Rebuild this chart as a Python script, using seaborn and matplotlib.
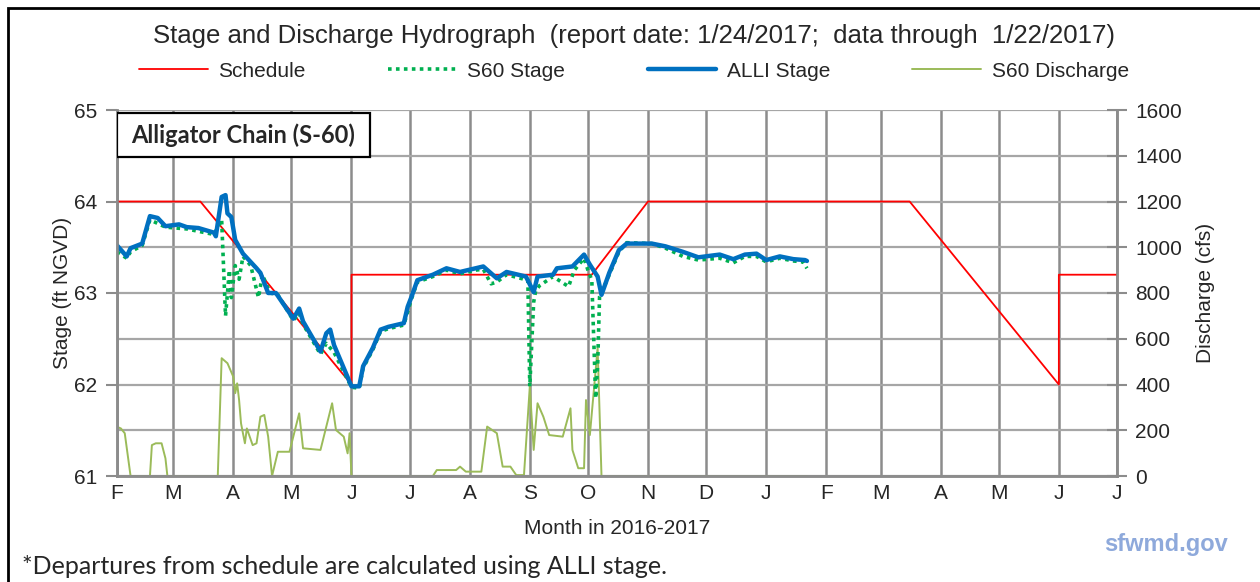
import pandas as pd
import numpy as np
import matplotlib.pyplot as plt
import matplotlib.dates as mdates
import matplotlib.ticker as mticker
from matplotlib.patches import Rectangle
import seaborn as sns

# ----------------------------
# Data read off the hydrograph
# ----------------------------

schedule_dates = ["2016-02-01", "2016-03-15", "2016-06-01", "2016-06-01", "2016-10-03",
                  "2016-11-01", "2017-03-16", "2017-06-01", "2017-06-01", "2017-07-01"]
schedule_stage = [64.0, 64.0, 62.0, 63.2, 63.2, 64.0, 64.0, 62.0, 63.2, 63.2]

alli_dates = ["2016-02-01", "2016-02-06", "2016-02-08", "2016-02-14", "2016-02-16", "2016-02-18",
              "2016-02-22", "2016-02-26", "2016-03-04", "2016-03-08", "2016-03-14", "2016-03-22",
              "2016-03-23", "2016-03-26", "2016-03-28", "2016-03-29", "2016-03-31", "2016-04-02",
              "2016-04-06", "2016-04-13", "2016-04-15", "2016-04-19", "2016-04-23", "2016-05-02",
              "2016-05-05", "2016-05-07", "2016-05-16", "2016-05-19", "2016-05-21", "2016-05-23",
              "2016-06-01", "2016-06-05", "2016-06-07", "2016-06-12", "2016-06-16", "2016-06-20",
              "2016-06-28", "2016-06-30", "2016-07-02", "2016-07-05", "2016-07-13", "2016-07-20",
              "2016-07-27", "2016-08-04", "2016-08-08", "2016-08-15", "2016-08-20", "2016-08-30",
              "2016-09-03", "2016-09-05", "2016-09-13", "2016-09-15", "2016-09-23", "2016-09-29",
              "2016-10-02", "2016-10-06", "2016-10-08", "2016-10-12", "2016-10-17", "2016-10-21",
              "2016-11-03", "2016-11-10", "2016-11-19", "2016-11-27", "2016-12-08", "2016-12-15",
              "2016-12-21", "2016-12-27", "2017-01-01", "2017-01-08", "2017-01-15", "2017-01-21",
              "2017-01-22"]
alli_stage = [63.52, 63.40, 63.49, 63.54, 63.69, 63.84,
              63.82, 63.73, 63.75, 63.72, 63.71, 63.66,
              63.62, 64.05, 64.07, 63.87, 63.83, 63.58,
              63.43, 63.27, 63.22, 63.00, 63.00, 62.72,
              62.83, 62.69, 62.36, 62.56, 62.60, 62.43,
              61.98, 61.98, 62.20, 62.40, 62.60, 62.63,
              62.67, 62.85, 62.96, 63.14, 63.20, 63.27,
              63.23, 63.27, 63.29, 63.16, 63.23, 63.18,
              63.01, 63.18, 63.20, 63.27, 63.29, 63.42,
              63.31, 63.18, 62.98, 63.22, 63.47, 63.54,
              63.54, 63.51, 63.45, 63.39, 63.42, 63.37,
              63.42, 63.43, 63.36, 63.40, 63.37, 63.36,
              63.35]

s60_dates = ["2016-02-01", "2016-02-06", "2016-02-08", "2016-02-14", "2016-02-18", "2016-02-26",
             "2016-03-08", "2016-03-22", "2016-03-26", "2016-03-28", "2016-03-30", "2016-03-31",
             "2016-04-02", "2016-04-04", "2016-04-06", "2016-04-10", "2016-04-14", "2016-04-16",
             "2016-04-20", "2016-04-24", "2016-05-02", "2016-05-05", "2016-05-07", "2016-05-16",
             "2016-05-19", "2016-05-23", "2016-05-27", "2016-06-01", "2016-06-05", "2016-06-07",
             "2016-06-12", "2016-06-16", "2016-06-20", "2016-06-28", "2016-07-02", "2016-07-05",
             "2016-07-13", "2016-07-20", "2016-07-27", "2016-08-04", "2016-08-08", "2016-08-12",
             "2016-08-15", "2016-08-20", "2016-08-31", "2016-09-01", "2016-09-03", "2016-09-04",
             "2016-09-06", "2016-09-13", "2016-09-21", "2016-09-24", "2016-09-29", "2016-10-01",
             "2016-10-03", "2016-10-05", "2016-10-06", "2016-10-07", "2016-10-10", "2016-10-12",
             "2016-10-17", "2016-10-21", "2016-11-03", "2016-11-10", "2016-11-19", "2016-11-27",
             "2016-12-08", "2016-12-15", "2016-12-21", "2016-12-27", "2017-01-01", "2017-01-08",
             "2017-01-15", "2017-01-20", "2017-01-22"]
s60_stage = [63.45, 63.38, 63.45, 63.52, 63.80, 63.72,
             63.70, 63.64, 63.80, 62.75, 63.25, 62.95,
             63.30, 63.15, 63.40, 63.30, 62.95, 63.20,
             63.00, 62.98, 62.70, 62.78, 62.66, 62.33,
             62.45, 62.35, 62.18, 61.97, 61.96, 62.18,
             62.38, 62.58, 62.61, 62.65, 62.94, 63.12,
             63.18, 63.25, 63.21, 63.25, 63.26, 63.10,
             63.12, 63.20, 63.14, 61.98, 62.90, 63.02,
             63.08, 63.18, 63.07, 63.25, 63.38, 63.25,
             63.14, 61.85, 62.20, 62.96, 63.10, 63.20,
             63.45, 63.55, 63.54, 63.49, 63.40, 63.36,
             63.38, 63.33, 63.40, 63.40, 63.34, 63.38,
             63.35, 63.34, 63.27]

discharge_dates = ["2016-02-01", "2016-02-03", "2016-02-05", "2016-02-08", "2016-02-18", "2016-02-19",
                   "2016-02-21", "2016-02-24", "2016-02-26", "2016-02-27", "2016-03-24", "2016-03-26",
                   "2016-03-29", "2016-04-01", "2016-04-02", "2016-04-03", "2016-04-04", "2016-04-05",
                   "2016-04-07", "2016-04-08", "2016-04-11", "2016-04-13", "2016-04-15", "2016-04-17",
                   "2016-04-19", "2016-04-21", "2016-04-24", "2016-04-30", "2016-05-05", "2016-05-07",
                   "2016-05-16", "2016-05-22", "2016-05-24", "2016-05-28", "2016-05-30", "2016-05-31",
                   "2016-06-01", "2016-07-13", "2016-07-15", "2016-07-25", "2016-07-27", "2016-07-30",
                   "2016-08-07", "2016-08-10", "2016-08-15", "2016-08-18", "2016-08-22", "2016-08-25",
                   "2016-08-29", "2016-09-01", "2016-09-03", "2016-09-05", "2016-09-08", "2016-09-11",
                   "2016-09-18", "2016-09-22", "2016-09-23", "2016-09-26", "2016-09-29", "2016-09-30",
                   "2016-10-02", "2016-10-06", "2016-10-08", "2017-01-22"]
discharge_cfs = [215, 208, 187, 0, 0, 135,
                 143, 143, 77, 0, 0, 515,
                 493, 434, 362, 405, 332, 230,
                 143, 208, 135, 143, 259, 267,
                 172, 0, 106, 106, 274, 121,
                 114, 318, 201, 172, 99, 187,
                 0, 0, 26, 26, 41, 19,
                 19, 216, 187, 41, 41, 4,
                 4, 390, 114, 318, 259, 179,
                 172, 296, 114, 34, 34, 332,
                 179, 560, 0, 0]

month_letters = ["J", "F", "M", "A", "M", "J", "J", "A", "S", "O", "N", "D"]

df_sched = pd.DataFrame({"date": pd.to_datetime(schedule_dates), "stage": schedule_stage})
df_alli = pd.DataFrame({"date": pd.to_datetime(alli_dates), "stage": alli_stage})
df_s60 = pd.DataFrame({"date": pd.to_datetime(s60_dates), "stage": s60_stage})
df_q = pd.DataFrame({"date": pd.to_datetime(discharge_dates), "cfs": discharge_cfs})

# ----------------------------
# Figure
# ----------------------------

sns.set_style("white")
plt.rcParams['font.family'] = ['Liberation Sans', 'DejaVu Sans']

fig = plt.figure(figsize=(12.6, 5.82), dpi=100)
ax = fig.add_axes([117/1260, 1 - 476/582, 1000/1260, 366/582])
ax2 = ax.twinx()

# discharge axis sits behind the stage axis, grid lives on it
ax.set_zorder(ax2.get_zorder() + 1)
ax.patch.set_visible(False)

grid_x = "#8c8c8c"
grid_y = "#a6a6a6"

sns.lineplot(data=df_q, x="date", y="cfs", ax=ax2, color="#9BBB59", lw=1.4,
             estimator=None, sort=False, legend=False)

sns.lineplot(data=df_sched, x="date", y="stage", ax=ax, color="#FF0000", lw=1.3,
             estimator=None, sort=False, label="Schedule")
sns.lineplot(data=df_s60, x="date", y="stage", ax=ax, color="#00B050", lw=2.6,
             linestyle=(0, (1, 1.2)), estimator=None, sort=False, label="S60 Stage")
sns.lineplot(data=df_alli, x="date", y="stage", ax=ax, color="#0070C0", lw=3.2,
             estimator=None, sort=False, label="ALLI Stage")

xmin, xmax = pd.Timestamp("2016-02-01"), pd.Timestamp("2017-07-01")
ax.set_xlim(xmin, xmax)
ax.set_ylim(61, 65)
ax2.set_ylim(0, 1600)

ax.xaxis.set_major_locator(mdates.MonthLocator())
ax.xaxis.set_major_formatter(mticker.FuncFormatter(
    lambda v, p: month_letters[mdates.num2date(v).month - 1]))
ax.yaxis.set_major_locator(mticker.MultipleLocator(1))
ax2.yaxis.set_major_locator(mticker.MultipleLocator(200))

# grid drawn on the back axis (twinx hides its x axis, bring it back without labels)
ax2.xaxis.set_visible(True)
ax2.xaxis.set_major_locator(mdates.MonthLocator())
ax2.tick_params(axis="x", which="both", bottom=False, top=False,
                labelbottom=False, labeltop=False)
ax2.set_xlabel("")
ax2.grid(True, axis="y", color=grid_y, lw=1.6)
ax2.grid(True, axis="x", color=grid_x, lw=1.8)
ax2.set_axisbelow(True)

for a in (ax, ax2):
    for s in a.spines.values():
        s.set_color(grid_x)
        s.set_linewidth(1.8)
    a.spines["top"].set_visible(False)

ax.tick_params(axis="both", which="major", direction="out", length=8, width=1.5,
               color=grid_x, labelsize=15, pad=6)
ax.tick_params(axis="x", length=5, pad=1)
ax2.tick_params(axis="y", direction="inout", length=14, width=1.5, color=grid_x,
                labelsize=15, pad=6)

ax.set_xlabel("Month in 2016-2017", fontsize=15, labelpad=11)
ax.set_ylabel("Stage (ft NGVD)", fontsize=15, labelpad=2)
ax2.set_ylabel("Discharge (cfs)", fontsize=15, labelpad=10)

# legend across the top
h, l = ax.get_legend_handles_labels()
qline = ax2.get_lines()[0]
h.append(plt.Line2D([], [], color=qline.get_color(), lw=1.4))
l.append("S60 Discharge")
ax.get_legend().remove()
fig.legend(h, l, loc="center", bbox_to_anchor=(634/1260, 1 - 71/582), ncol=4, frameon=False,
           fontsize=15, handlelength=3.3, handletextpad=0.5, columnspacing=3.95)

fig.text(634/1260, 1 - 36/582,
         "Stage and Discharge Hydrograph  (report date: 1/24/2017;  data through  1/22/2017)",
         ha="center", va="center", fontsize=18.5)

# station label box
ax.add_patch(Rectangle((0.0, 0.8716), 0.253, 0.12, transform=ax.transAxes,
                       fc="white", ec="black", lw=1.6, zorder=5))
ax.text(0.1265, 0.932, "Alligator Chain (S-60)", transform=ax.transAxes,
        ha="center", va="center", fontsize=17, fontweight="bold", family="Lato", zorder=6)

fig.text(22/1260, 1 - 566/582, "*Departures from schedule are calculated using ALLI stage.",
         ha="left", va="center", fontsize=18, family="Lato")
fig.text(1228/1260, 1 - 545/582, "sfwmd.gov", ha="right", va="center", fontsize=17,
         fontweight="bold", color="#8EA9DB")

# outer frame of the report panel
fig.patches.append(Rectangle((8/1260, -0.1), 1.2, 1 - 8/582 + 0.1, transform=fig.transFigure,
                             fill=False, ec="black", lw=2))

fig.savefig("out.png", dpi=100)
